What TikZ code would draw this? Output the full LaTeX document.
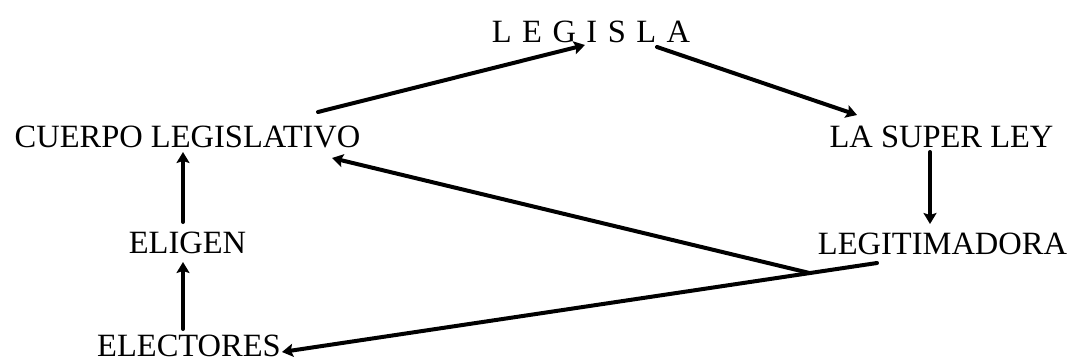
\documentclass[tikz,border=0pt]{standalone}
\usepackage{fontspec}
\setmainfont{Liberation Serif}
\usetikzlibrary{arrows.meta,calc}
\begin{document}
\begin{tikzpicture}[x=1pt,y=-1pt,
  lbl/.style={inner sep=0pt, anchor=base, font=\fontsize{32.5}{36}\selectfont},
  arr/.style={line width=4pt, line cap=round, -{Stealth[length=11pt,width=13pt,inset=2pt]}}]
\useasboundingbox (0,0) rectangle (1071,362);
\node[lbl] (legisla) at (591,42) {{\spaceskip=10.5pt L E G I S L A}};
\node[lbl] (cuerpo) at (187.5,147) {CUERPO LEGISLATIVO};
\node[lbl] (superley) at (941.5,147) {LA SUPER LEY};
\node[lbl] (eligen) at (187.5,253) {ELIGEN};
\node[lbl] (legit) at (942.5,254) {LEGITIMADORA};
\node[lbl] (electores) at (189,356) {ELECTORES};
% arrows
\draw[arr] ([shift={(130.5pt,35pt)}]cuerpo.base) -- ([shift={(-6pt,-3pt)}]legisla.base);
\draw[arr] ([shift={(66pt,-5pt)}]legisla.base) -- ([shift={(-84.5pt,32pt)}]superley.base);
\draw[arr] ([shift={(-11.5pt,-5pt)}]superley.base) -- ([shift={(-12.5pt,30pt)}]legit.base);
\coordinate (ls) at ([shift={(-65.5pt,-9pt)}]legit.base);
\coordinate (le) at ([shift={(93pt,4pt)}]electores.base);
\coordinate (j) at ($(ls)!0.113!(le)$);
\draw[arr] (ls) -- (le);
\draw[arr] (j) -- ([shift={(144.5pt,-11pt)}]cuerpo.base);
\draw[arr] ([shift={(-4.5pt,31pt)}]eligen.base) -- ([shift={(-4.5pt,-5pt)}]cuerpo.base);
\draw[arr] ([shift={(-6pt,27pt)}]electores.base) -- ([shift={(-4.5pt,-9pt)}]eligen.base);
\end{tikzpicture}
\end{document}
